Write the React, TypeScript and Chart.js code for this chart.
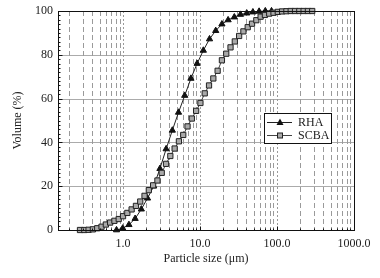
import React, { useEffect, useRef } from 'react';
import { Chart, registerables } from 'chart.js';

Chart.register(...registerables);

// Particle size (µm) and cumulative volume (%)
const rhaSize = [0.823, 0.991, 1.193, 1.436, 1.728, 2.08, 2.504, 3.015, 3.629, 4.369, 5.258, 6.33, 7.619, 9.17, 11.04, 13.29, 15.99, 19.25, 23.17, 27.89, 33.57, 40.41, 48.64, 58.55, 70.48, 84.83];
const rhaVolume = [0, 0.8, 2.4, 5.2, 9.5, 14.5, 20, 28, 37, 45.5, 53.7, 61.4, 69.2, 76, 82, 87.2, 91, 94, 95.9, 97.2, 98.4, 99, 99.5, 99.8, 100, 100];

const scbaSize = [0.276, 0.314, 0.357, 0.406, 0.462, 0.526, 0.598, 0.68, 0.773, 0.879, 1.0, 1.137, 1.293, 1.471, 1.673, 1.902, 2.163, 2.46, 2.798, 3.182, 3.618, 4.115, 4.68, 5.321, 6.052, 6.882, 7.826, 8.901, 10.12, 11.51, 13.09, 14.89, 16.93, 19.25, 21.9, 24.9, 28.31, 32.2, 36.62, 41.65, 47.36, 53.86, 61.24, 69.65, 79.2, 90.07, 102.4, 116.5, 132.5, 150.7, 171.4, 194.8, 221.6, 252.0, 286.5];
const scbaVolume = [0, 0, 0.1, 0.3, 0.8, 1.5, 2.5, 3.4, 4.2, 5.0, 6.3, 7.8, 9.4, 11.0, 13.0, 15.6, 18.2, 20.4, 22.6, 26.1, 30.2, 33.8, 37.2, 40.5, 43.4, 47.3, 50.9, 54.4, 58.0, 62.4, 66.0, 69.2, 72.7, 77.5, 80.5, 83.4, 86.1, 88.6, 90.7, 92.6, 94.2, 95.8, 97.4, 98.2, 98.8, 99.2, 99.6, 99.8, 99.9, 100, 100, 100, 100, 100, 100];

const xMin = 0.143;
const xMax = 1000;
const xDecades = [0.1, 1, 10, 100];
const xMultipliers = [1, 2, 3, 4, 5, 6, 7, 8, 9];
const xLabelValues = [1, 10, 100, 1000];
const yHGrid = [20, 40, 60, 80];
const yStep = 20;
const legendLabels = ['RHA', 'SCBA'];

const FONT = "'Liberation Serif', 'Times New Roman', serif";
const TEXT = '#222';

const framePlugin = {
  id: 'frameAndLegend',
  beforeDatasetsDraw(chart: any) {
    const { ctx, chartArea: a, scales } = chart;
    const x = scales.x;
    const y = scales.y;
    ctx.save();
    ctx.lineWidth = 1;
    // horizontal grid
    ctx.strokeStyle = '#ababab';
    ctx.setLineDash([]);
    for (const v of yHGrid) {
      const py = Math.round(y.getPixelForValue(v)) + 0.5;
      ctx.beginPath();
      ctx.moveTo(a.left, py);
      ctx.lineTo(a.right, py);
      ctx.stroke();
    }
    // vertical grid
    ctx.strokeStyle = '#9a9a9a';
    for (const d of xDecades) {
      for (const m of xMultipliers) {
        const v = d * m;
        if (v <= xMin || v >= xMax) continue;
        const px = Math.round(x.getPixelForValue(v)) + 0.5;
        ctx.setLineDash(m === 1 ? [2, 2] : [5, 3]);
        ctx.beginPath();
        ctx.moveTo(px, a.top);
        ctx.lineTo(px, a.bottom);
        ctx.stroke();
      }
    }
    ctx.restore();
  },
  afterDraw(chart: any) {
    const { ctx, chartArea: a, scales } = chart;
    const x = scales.x;
    const y = scales.y;
    ctx.save();
    ctx.lineWidth = 1;
    ctx.setLineDash([]);
    ctx.strokeStyle = '#111';
    const L = Math.round(a.left) + 0.5;
    const R = Math.round(a.right) + 0.5;
    const T = Math.round(a.top) + 0.5;
    const B = Math.round(a.bottom) + 0.5;
    ctx.strokeRect(L, T, R - L, B - T);
    // y ticks (inward)
    for (let v = 0; v <= 100; v += 2) {
      const py = Math.round(y.getPixelForValue(v)) + 0.5;
      const len = v % yStep === 0 ? 4 : 2;
      ctx.beginPath();
      ctx.moveTo(L, py);
      ctx.lineTo(L + len, py);
      ctx.stroke();
    }
    // x ticks (inward)
    for (const d of [...xDecades, 1000]) {
      for (const m of xMultipliers) {
        const v = d * m;
        if (v < xMin || v > xMax) continue;
        const px = Math.round(x.getPixelForValue(v)) + 0.5;
        const len = m === 1 ? 4 : 2;
        ctx.beginPath();
        ctx.moveTo(px, B);
        ctx.lineTo(px, B - len);
        ctx.stroke();
      }
    }
    // legend
    const bx = 264.5, by = 113.5, bw = 67, bh = 30;
    ctx.fillStyle = '#fff';
    ctx.fillRect(bx, by, bw, bh);
    ctx.strokeStyle = '#111';
    ctx.strokeRect(bx, by, bw, bh);
    const rows = [122, 135];
    ctx.font = `12px ${FONT}`;
    ctx.textBaseline = 'middle';
    ctx.textAlign = 'left';
    chart.data.datasets.forEach((ds: any, i: number) => {
      const idx = legendLabels.indexOf(ds.label);
      const ry = rows[idx] + 0.5;
      ctx.strokeStyle = ds.borderColor;
      ctx.lineWidth = 1;
      ctx.beginPath();
      ctx.moveTo(267, ry);
      ctx.lineTo(292, ry);
      ctx.stroke();
      const cx = 280;
      if (ds.pointStyle === 'triangle') {
        ctx.fillStyle = ds.pointBackgroundColor;
        ctx.beginPath();
        ctx.moveTo(cx, ry - 4);
        ctx.lineTo(cx + 3.5, ry + 2.5);
        ctx.lineTo(cx - 3.5, ry + 2.5);
        ctx.closePath();
        ctx.fill();
      } else {
        ctx.fillStyle = ds.pointBackgroundColor;
        ctx.strokeStyle = ds.pointBorderColor;
        ctx.fillRect(cx - 2.5, ry - 2.5, 5, 5);
        ctx.strokeRect(cx - 2.5, ry - 2.5, 5, 5);
      }
      ctx.fillStyle = TEXT;
      ctx.fillText(ds.label, 298, ry + 0.5);
    });
    ctx.restore();
  },
};

export default function App() {
  const ref = useRef<HTMLCanvasElement | null>(null);
  useEffect(() => {
    if (!ref.current) return;
    const chart = new Chart(ref.current, {
      type: 'line',
      data: {
        datasets: [
          {
            label: legendLabels[1],
            data: scbaSize.map((s, i) => ({ x: s, y: scbaVolume[i] })),
            borderColor: '#444',
            borderWidth: 1,
            pointStyle: 'rect',
            pointRadius: 3.7,
            pointBackgroundColor: '#a9a9a9',
            pointBorderColor: '#222',
            pointBorderWidth: 1,
            tension: 0,
            clip: false as any,
          },
          {
            label: legendLabels[0],
            data: rhaSize.map((s, i) => ({ x: s, y: rhaVolume[i] })),
            borderColor: '#222',
            borderWidth: 1,
            pointStyle: 'triangle',
            pointRadius: 3.6,
            pointBackgroundColor: '#111',
            pointBorderColor: '#111',
            pointBorderWidth: 1,
            tension: 0,
            clip: false as any,
          },
        ],
      },
      options: {
        animation: false,
        responsive: false,
        events: [],
        layout: { padding: { left: 7, top: 11, right: 26, bottom: 8 } },
        plugins: { legend: { display: false }, tooltip: { enabled: false } },
        scales: {
          x: {
            type: 'logarithmic',
            min: xMin,
            max: xMax,
            grid: { display: false, drawTicks: false },
            border: { display: false },
            ticks: {
              autoSkip: false,
              maxRotation: 0,
              minRotation: 0,
              padding: 7,
              color: TEXT,
              font: { family: FONT, size: 12 },
              callback: (v: any) => {
                const n = Number(v);
                const hit = xLabelValues.find((t) => Math.abs(t - n) < 1e-6 * t);
                return hit !== undefined ? hit.toFixed(1) : '';
              },
            },
            title: {
              display: true,
              text: 'Particle size (μm)',
              color: TEXT,
              font: { family: FONT, size: 12 },
              padding: { top: 4, bottom: 4 },
            },
            afterFit: (s: any) => {
              s.height = 40;
              s.paddingLeft = 0;
              s.paddingRight = 0;
            },
          } as any,
          y: {
            min: 0,
            max: 100,
            grid: { display: false, drawTicks: false },
            border: { display: false },
            ticks: {
              stepSize: yStep,
              padding: 5,
              color: TEXT,
              font: { family: FONT, size: 12 },
            },
            title: {
              display: true,
              text: 'Volume (%)',
              color: TEXT,
              font: { family: FONT, size: 12 },
              padding: { top: 4, bottom: 4 },
            },
            afterFit: (s: any) => {
              s.width = 51;
              s.paddingTop = 0;
              s.paddingBottom = 0;
            },
          } as any,
        },
      },
      plugins: [framePlugin],
    });
    return () => chart.destroy();
  }, []);
  return (
    <div style={{ position: 'absolute', left: 0, top: 0, width: 380, height: 278, background: '#fff' }}>
      <canvas ref={ref} width={380} height={278} style={{ display: 'block' }} />
    </div>
  );
}
